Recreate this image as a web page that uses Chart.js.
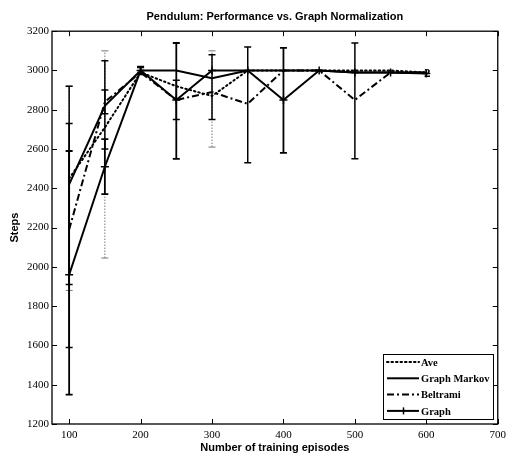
<!DOCTYPE html>
<html><head><meta charset="utf-8">
<script src="https://cdn.jsdelivr.net/npm/chart.js@4/dist/chart.umd.min.js"></script>
<style>html,body{margin:0;padding:0;background:#fff}</style>
</head><body>
<canvas id="c" width="511" height="456"></canvas>
<script>
// Training budget (episodes) and mean steps balanced for each method
const episodes = [100, 150, 200, 250, 300, 350, 400, 450, 500, 550, 600];
const ave      = [2450, 2710, 2990, 2920, 2870, 3000, 3000, 3000, 3000, 3000, 2990];
const markov   = [2420, 2820, 3000, 3000, 2960, 3000, 3000, 3000, 2990, 2990, 2990];
const beltrami = [2190, 2840, 2990, 2850, 2890, 2830, 3000, 3000, 2850, 2990, 2990];
const graph    = [1960, 2510, 3000, 2850, 3000, 3000, 2850, 3000, 2990, 2990, 2985];

// Error bar extents [low, high] per episode count (null = no visible spread)
const aveErr      = [[1880,2920],[2045,3100],null,null,[2610,3100],null,null,null,null,null,null];
const markovErr   = [[1910,2920],[2600,3050],[2985,3015],null,null,null,null,null,null,null,null];
const beltramiErr = [[1590,2730],[2780,2900],null,[2750,2950],[2750,3080],[2530,3120],null,null,[2550,3140],null,null];
const graphErr    = [[1350,2590],[2370,2650],[2980,3020],[2550,3140],null,null,[2580,3115],null,null,null,null];

const xTicks = [100, 200, 300, 400, 500, 600, 700];
const yTicks = [1200, 1400, 1600, 1800, 2000, 2200, 2400, 2600, 2800, 3000, 3200];

const seriesNames = ['Ave', 'Graph Markov', 'Beltrami', 'Graph'];

const pts = arr => episodes.map((x, i) => ({ x, y: arr[i] }));

const serif = '"Liberation Serif", "Times New Roman", serif';
const sans = '"Liberation Sans", Arial, Helvetica, sans-serif';

const styles = [
  { dash: [1.5, 3], cap: 'round', err: aveErr, errColor: '#777', errDash: [1.5, 1.5], errWidth: 1 },
  { dash: [], cap: 'butt', err: markovErr, errColor: '#000', errDash: [], errWidth: 1.5 },
  { dash: [7, 3, 2, 3], cap: 'butt', err: beltramiErr, errColor: '#000', errDash: [], errWidth: 1.5 },
  { dash: [], cap: 'butt', err: graphErr, errColor: '#000', errDash: [], errWidth: 1.8 }
];

// Vertical error bars with short caps, plus the boxed axes with inward ticks and the legend
const decorations = {
  id: 'decorations',
  afterDatasetsDraw(chart) {
    const ctx = chart.ctx, xs = chart.scales.x, ys = chart.scales.y;
    ctx.save();
    styles.forEach(st => {
      ctx.strokeStyle = st.errColor;
      ctx.lineWidth = st.errWidth;
      ctx.setLineDash(st.errDash);
      st.err.forEach((e, j) => {
        if (!e) return;
        const x = xs.getPixelForValue(episodes[j]);
        const y1 = ys.getPixelForValue(e[0]);
        const y2 = ys.getPixelForValue(e[1]);
        ctx.beginPath();
        ctx.moveTo(x, y1); ctx.lineTo(x, y2);
        ctx.stroke();
        ctx.setLineDash([]);
        ctx.beginPath();
        ctx.moveTo(x - 3.5, y1); ctx.lineTo(x + 3.5, y1);
        ctx.moveTo(x - 3.5, y2); ctx.lineTo(x + 3.5, y2);
        ctx.stroke();
        ctx.setLineDash(st.errDash);
      });
    });
    ctx.restore();
  },
  afterDraw(chart) {
    const ctx = chart.ctx, a = chart.chartArea, xs = chart.scales.x, ys = chart.scales.y;
    ctx.save();
    ctx.strokeStyle = '#000';
    ctx.setLineDash([]);
    ctx.lineWidth = 1.3;
    ctx.strokeRect(a.left, a.top, a.right - a.left, a.bottom - a.top);
    ctx.lineWidth = 1;
    ctx.beginPath();
    xTicks.forEach(v => {
      const x = Math.round(xs.getPixelForValue(v)) + 0.5;
      ctx.moveTo(x, a.bottom); ctx.lineTo(x, a.bottom - 5);
      ctx.moveTo(x, a.top); ctx.lineTo(x, a.top + 5);
    });
    yTicks.forEach(v => {
      const y = Math.round(ys.getPixelForValue(v)) + 0.5;
      ctx.moveTo(a.left, y); ctx.lineTo(a.left + 5, y);
      ctx.moveTo(a.right, y); ctx.lineTo(a.right - 5, y);
    });
    ctx.stroke();

    // end marker label on the converged curves
    ctx.fillStyle = '#000';
    ctx.font = 'bold 13px ' + serif;
    ctx.textAlign = 'center';
    ctx.textBaseline = 'middle';
    ctx.fillText('2', xs.getPixelForValue(600) + 1, ys.getPixelForValue(2990) + 1);

    // legend box
    const lx = 383, ly = 354, lw = 110, lh = 65;
    ctx.fillStyle = '#fff';
    ctx.fillRect(lx, ly, lw, lh);
    ctx.lineWidth = 1;
    ctx.strokeRect(lx + 0.5, ly + 0.5, lw, lh);
    ctx.font = 'bold 10.5px ' + serif;
    ctx.textAlign = 'left';
    seriesNames.forEach((name, i) => {
      const y = ly + 8 + i * 16.3;
      const st = styles[i];
      ctx.strokeStyle = '#000';
      ctx.lineWidth = 2;
      ctx.lineCap = st.cap;
      ctx.setLineDash(st.dash);
      ctx.beginPath();
      ctx.moveTo(lx + 4, y); ctx.lineTo(lx + 36, y);
      ctx.stroke();
      ctx.setLineDash([]);
      if (i === 3) {
        ctx.lineWidth = 1.5;
        ctx.beginPath();
        ctx.moveTo(lx + 20.5, y - 3.5); ctx.lineTo(lx + 20.5, y + 3.5);
        ctx.stroke();
      }
      ctx.fillStyle = '#000';
      ctx.fillText(name, lx + 38, y + 1);
    });
    ctx.restore();
  }
};

const datasets = [ave, markov, beltrami, graph].map((arr, i) => ({
  label: seriesNames[i],
  data: pts(arr),
  borderColor: '#000',
  backgroundColor: '#000',
  borderWidth: 2,
  borderDash: styles[i].dash,
  borderCapStyle: styles[i].cap,
  pointRadius: i === 3 ? 4 : 0,
  pointStyle: 'cross',
  pointBorderWidth: 1.5,
  pointBorderColor: '#000',
  tension: 0,
  fill: false
}));

new Chart(document.getElementById('c'), {
  type: 'line',
  data: { datasets },
  plugins: [decorations],
  options: {
    responsive: false,
    animation: false,
    devicePixelRatio: 1,
    layout: { padding: { left: 0, right: 10, top: 0, bottom: 0 } },
    plugins: {
      legend: { display: false },
      tooltip: { enabled: false },
      title: {
        display: true,
        fullSize: false,
        text: 'Pendulum: Performance vs. Graph Normalization',
        color: '#000',
        font: { family: sans, size: 11, weight: 'bold' },
        padding: { top: 10, bottom: 8 }
      }
    },
    scales: {
      x: {
        type: 'linear',
        min: 76,
        max: 700,
        afterBuildTicks: s => { s.ticks = xTicks.map(v => ({ value: v })); },
        afterFit: s => { s.height = 32; },
        grid: { display: true, drawOnChartArea: false, drawTicks: false },
        border: { display: false },
        ticks: { color: '#000', font: { family: serif, size: 11 }, padding: 5, maxRotation: 0, callback: v => String(v) },
        title: {
          display: true,
          text: 'Number of training episodes',
          color: '#000',
          font: { family: sans, size: 11, weight: 'bold' },
          padding: { top: 0, bottom: 1 }
        }
      },
      y: {
        min: 1200,
        max: 3200,
        afterBuildTicks: s => { s.ticks = yTicks.map(v => ({ value: v })); },
        afterFit: s => { s.width = 52; },
        grid: { display: true, drawOnChartArea: false, drawTicks: false },
        border: { display: false },
        ticks: { color: '#000', font: { family: serif, size: 11 }, padding: 3, callback: v => String(v) },
        title: {
          display: true,
          text: 'Steps',
          color: '#000',
          font: { family: sans, size: 11, weight: 'bold' },
          padding: { top: 8, bottom: 0 }
        }
      }
    }
  }
});
</script>
</body></html>
